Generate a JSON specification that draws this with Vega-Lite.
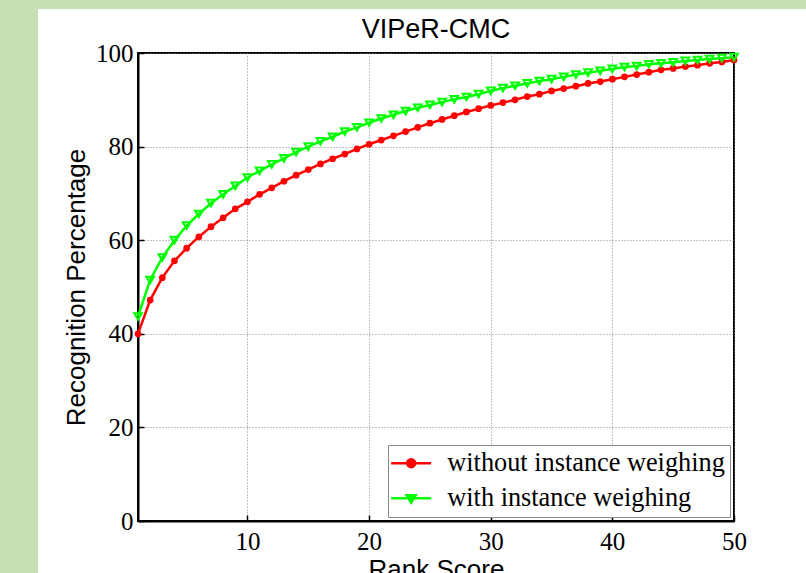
{
  "$schema": "https://vega.github.io/schema/vega-lite/v6.json",
  "autosize": "none",
  "width": 596,
  "height": 468,
  "padding": {"left": 138, "top": 53, "right": 72, "bottom": 52},
  "background": "white",
  "title": {"text": "VIPeR-CMC", "font": "Liberation Sans", "fontSize": 27, "fontWeight": "normal", "color": "black", "baseline": "alphabetic", "offset": 2, "dy": 67},
  "data": {"values": [
    {"rank": 1, "value": 40.0, "method": "without instance weighing"},
    {"rank": 2, "value": 47.2, "method": "without instance weighing"},
    {"rank": 3, "value": 52.0, "method": "without instance weighing"},
    {"rank": 4, "value": 55.6, "method": "without instance weighing"},
    {"rank": 5, "value": 58.3, "method": "without instance weighing"},
    {"rank": 6, "value": 60.7, "method": "without instance weighing"},
    {"rank": 7, "value": 62.9, "method": "without instance weighing"},
    {"rank": 8, "value": 64.8, "method": "without instance weighing"},
    {"rank": 9, "value": 66.7, "method": "without instance weighing"},
    {"rank": 10, "value": 68.2, "method": "without instance weighing"},
    {"rank": 11, "value": 69.8, "method": "without instance weighing"},
    {"rank": 12, "value": 71.2, "method": "without instance weighing"},
    {"rank": 13, "value": 72.6, "method": "without instance weighing"},
    {"rank": 14, "value": 73.9, "method": "without instance weighing"},
    {"rank": 15, "value": 75.1, "method": "without instance weighing"},
    {"rank": 16, "value": 76.3, "method": "without instance weighing"},
    {"rank": 17, "value": 77.4, "method": "without instance weighing"},
    {"rank": 18, "value": 78.4, "method": "without instance weighing"},
    {"rank": 19, "value": 79.5, "method": "without instance weighing"},
    {"rank": 20, "value": 80.5, "method": "without instance weighing"},
    {"rank": 21, "value": 81.4, "method": "without instance weighing"},
    {"rank": 22, "value": 82.3, "method": "without instance weighing"},
    {"rank": 23, "value": 83.2, "method": "without instance weighing"},
    {"rank": 24, "value": 84.1, "method": "without instance weighing"},
    {"rank": 25, "value": 85.0, "method": "without instance weighing"},
    {"rank": 26, "value": 85.8, "method": "without instance weighing"},
    {"rank": 27, "value": 86.6, "method": "without instance weighing"},
    {"rank": 28, "value": 87.4, "method": "without instance weighing"},
    {"rank": 29, "value": 88.1, "method": "without instance weighing"},
    {"rank": 30, "value": 88.8, "method": "without instance weighing"},
    {"rank": 31, "value": 89.4, "method": "without instance weighing"},
    {"rank": 32, "value": 90.0, "method": "without instance weighing"},
    {"rank": 33, "value": 90.7, "method": "without instance weighing"},
    {"rank": 34, "value": 91.2, "method": "without instance weighing"},
    {"rank": 35, "value": 91.9, "method": "without instance weighing"},
    {"rank": 36, "value": 92.4, "method": "without instance weighing"},
    {"rank": 37, "value": 92.9, "method": "without instance weighing"},
    {"rank": 38, "value": 93.5, "method": "without instance weighing"},
    {"rank": 39, "value": 93.9, "method": "without instance weighing"},
    {"rank": 40, "value": 94.4, "method": "without instance weighing"},
    {"rank": 41, "value": 94.9, "method": "without instance weighing"},
    {"rank": 42, "value": 95.4, "method": "without instance weighing"},
    {"rank": 43, "value": 95.9, "method": "without instance weighing"},
    {"rank": 44, "value": 96.4, "method": "without instance weighing"},
    {"rank": 45, "value": 96.7, "method": "without instance weighing"},
    {"rank": 46, "value": 97.1, "method": "without instance weighing"},
    {"rank": 47, "value": 97.4, "method": "without instance weighing"},
    {"rank": 48, "value": 97.8, "method": "without instance weighing"},
    {"rank": 49, "value": 98.1, "method": "without instance weighing"},
    {"rank": 50, "value": 98.5, "method": "without instance weighing"},
    {"rank": 1, "value": 43.7, "method": "with instance weighing"},
    {"rank": 2, "value": 51.5, "method": "with instance weighing"},
    {"rank": 3, "value": 56.3, "method": "with instance weighing"},
    {"rank": 4, "value": 60.0, "method": "with instance weighing"},
    {"rank": 5, "value": 63.1, "method": "with instance weighing"},
    {"rank": 6, "value": 65.6, "method": "with instance weighing"},
    {"rank": 7, "value": 67.9, "method": "with instance weighing"},
    {"rank": 8, "value": 69.8, "method": "with instance weighing"},
    {"rank": 9, "value": 71.6, "method": "with instance weighing"},
    {"rank": 10, "value": 73.4, "method": "with instance weighing"},
    {"rank": 11, "value": 74.8, "method": "with instance weighing"},
    {"rank": 12, "value": 76.2, "method": "with instance weighing"},
    {"rank": 13, "value": 77.5, "method": "with instance weighing"},
    {"rank": 14, "value": 78.8, "method": "with instance weighing"},
    {"rank": 15, "value": 80.0, "method": "with instance weighing"},
    {"rank": 16, "value": 81.1, "method": "with instance weighing"},
    {"rank": 17, "value": 82.1, "method": "with instance weighing"},
    {"rank": 18, "value": 83.2, "method": "with instance weighing"},
    {"rank": 19, "value": 84.1, "method": "with instance weighing"},
    {"rank": 20, "value": 85.1, "method": "with instance weighing"},
    {"rank": 21, "value": 86.0, "method": "with instance weighing"},
    {"rank": 22, "value": 86.8, "method": "with instance weighing"},
    {"rank": 23, "value": 87.6, "method": "with instance weighing"},
    {"rank": 24, "value": 88.3, "method": "with instance weighing"},
    {"rank": 25, "value": 88.9, "method": "with instance weighing"},
    {"rank": 26, "value": 89.5, "method": "with instance weighing"},
    {"rank": 27, "value": 90.1, "method": "with instance weighing"},
    {"rank": 28, "value": 90.6, "method": "with instance weighing"},
    {"rank": 29, "value": 91.2, "method": "with instance weighing"},
    {"rank": 30, "value": 91.9, "method": "with instance weighing"},
    {"rank": 31, "value": 92.5, "method": "with instance weighing"},
    {"rank": 32, "value": 93.0, "method": "with instance weighing"},
    {"rank": 33, "value": 93.5, "method": "with instance weighing"},
    {"rank": 34, "value": 94.0, "method": "with instance weighing"},
    {"rank": 35, "value": 94.4, "method": "with instance weighing"},
    {"rank": 36, "value": 94.9, "method": "with instance weighing"},
    {"rank": 37, "value": 95.4, "method": "with instance weighing"},
    {"rank": 38, "value": 95.8, "method": "with instance weighing"},
    {"rank": 39, "value": 96.2, "method": "with instance weighing"},
    {"rank": 40, "value": 96.6, "method": "with instance weighing"},
    {"rank": 41, "value": 97.0, "method": "with instance weighing"},
    {"rank": 42, "value": 97.2, "method": "with instance weighing"},
    {"rank": 43, "value": 97.6, "method": "with instance weighing"},
    {"rank": 44, "value": 97.8, "method": "with instance weighing"},
    {"rank": 45, "value": 98.0, "method": "with instance weighing"},
    {"rank": 46, "value": 98.3, "method": "with instance weighing"},
    {"rank": 47, "value": 98.5, "method": "with instance weighing"},
    {"rank": 48, "value": 98.7, "method": "with instance weighing"},
    {"rank": 49, "value": 98.9, "method": "with instance weighing"},
    {"rank": 50, "value": 99.1, "method": "with instance weighing"}
  ]},
  "layer": [
    {
      "data": {"values": [{}]},
      "mark": {"type": "rect", "color": "#c6e0b4"},
      "encoding": {"x": {"datum": -15}, "x2": {"datum": -7.22}, "y": {"datum": -15}, "y2": {"datum": 111.3}}
    },
    {
      "data": {"values": [{}]},
      "mark": {"type": "rect", "color": "#c6e0b4"},
      "encoding": {"x": {"datum": -15}, "x2": {"datum": 70}, "y": {"datum": 109.4}, "y2": {"datum": 111.3}}
    },
    {
      "mark": {"type": "line", "strokeWidth": 2.5},
      "encoding": {
        "x": {"field": "rank", "type": "quantitative", "scale": {"domain": [1, 50], "nice": false, "zero": false},
          "axis": {"title": "Rank Score", "values": [10, 20, 30, 40, 50], "labelPadding": 14, "titlePadding": 2, "labelFlush": false}},
        "y": {"field": "value", "type": "quantitative", "scale": {"domain": [0, 100], "nice": false},
          "axis": {"title": "Recognition Percentage", "values": [0, 20, 40, 60, 80, 100], "labelPadding": 11, "titlePadding": 6}},
        "color": {"field": "method", "type": "nominal",
          "scale": {"domain": ["without instance weighing", "with instance weighing"], "range": ["#ff0000", "#00ff00"]},
          "legend": {
            "title": null, "orient": "bottom-right", "offset": 4,
            "fillColor": "white", "strokeColor": "#888888", "padding": 5,
            "labelFont": "Liberation Serif", "labelFontSize": 26.3, "labelColor": "black", "labelLimit": 500,
            "symbolSize": 400, "labelOffset": 28, "rowPadding": 8,
            "encode": {"symbols": {"update": {
              "shape": {"signal": "datum.value === 'with instance weighing' ? 'M-1.5,0H2.5M0.05,-0.3L0.95,-0.3L0.5,0.45Z' : 'M-1.5,0H2.5M0.9,0A0.4,0.4,0,1,1,0.1,0A0.4,0.4,0,1,1,0.9,0Z'"},
              "fill": {"signal": "datum.value === 'with instance weighing' ? '#00ff00' : '#ff0000'"},
              "stroke": {"signal": "datum.value === 'with instance weighing' ? '#00ff00' : '#ff0000'"},
              "strokeWidth": {"value": 2.5},
              "opacity": {"value": 1}
            }}}
          }
        }
      }
    },
    {
      "transform": [{"filter": "datum.method === 'without instance weighing'"}],
      "mark": {"type": "point", "shape": "circle", "filled": true, "color": "#ff0000", "size": 45, "opacity": 1},
      "encoding": {"x": {"field": "rank", "type": "quantitative"}, "y": {"field": "value", "type": "quantitative"}}
    },
    {
      "transform": [{"filter": "datum.method === 'with instance weighing'"}],
      "mark": {"type": "point", "shape": "triangle-down", "filled": false, "color": "#00ff00", "strokeWidth": 2, "size": 60, "opacity": 1},
      "encoding": {"x": {"field": "rank", "type": "quantitative"}, "y": {"field": "value", "type": "quantitative"}}
    }
  ],
  "config": {
    "view": {"stroke": "black", "strokeWidth": 2},
    "axis": {
      "grid": true, "gridColor": "#888888", "gridDash": [1, 2], "gridWidth": 1,
      "domainColor": "black", "domainWidth": 2,
      "tickSize": -6, "tickColor": "black", "tickWidth": 1.5,
      "labelFont": "Liberation Serif", "labelFontSize": 25, "labelColor": "black",
      "titleFont": "Liberation Sans", "titleFontSize": 26, "titleFontWeight": "normal", "titleColor": "black"
    }
  }
}
